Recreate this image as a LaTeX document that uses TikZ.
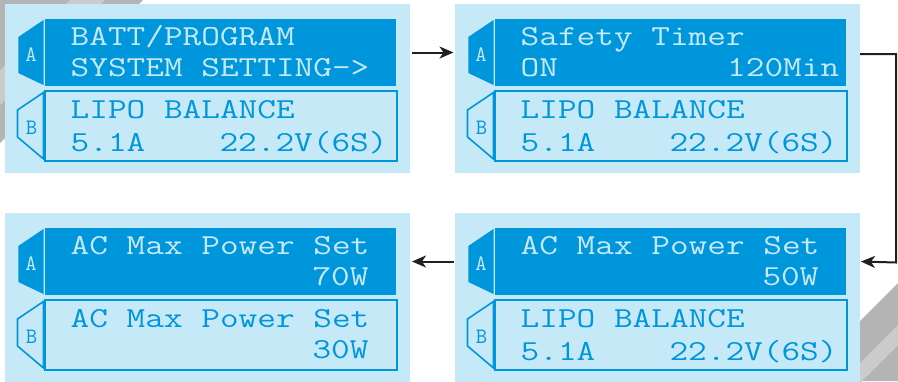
\documentclass[tikz,border=0pt]{standalone}
\usepackage{fontspec}
\newfontfamily\lcdmono{Latin Modern Mono}[FakeStretch=1.25]
\newfontfamily\lcdtab{Latin Modern Mono}
\usetikzlibrary{arrows.meta}
\definecolor{dblue}{HTML}{0096DB}
\definecolor{lbg}{HTML}{C6E9F8}
\definecolor{arrcol}{HTML}{231F20}
\definecolor{grayA}{HTML}{B4B4B4}
\definecolor{grayB}{HTML}{CBCBCB}
\tikzset{
  panelbg/.style={fill=lbg, draw=none, minimum width=405pt, minimum height=169pt, inner sep=0pt, outer sep=0pt},
  abox/.style={fill=dblue, draw=none, minimum width=351pt, minimum height=67pt, inner sep=0pt, outer sep=0pt},
  bbox/.style={draw=dblue, line width=1.6pt, minimum width=352pt, minimum height=70pt, inner sep=0pt, outer sep=0pt},
  atab/.style={fill=dblue},
  btab/.style={draw=dblue, line width=1.6pt, line join=miter},
  tabA/.style={text=lbg, font=\lcdtab\fontsize{22}{22}\selectfont, inner sep=0pt},
  tabB/.style={text=dblue, font=\lcdtab\fontsize{22}{22}\selectfont, inner sep=0pt},
  ltxt/.style={text=lbg, font=\lcdmono\fontsize{29}{29}\selectfont, inner sep=0pt, anchor=base west},
  btxt/.style={text=dblue, font=\lcdmono\fontsize{29}{29}\selectfont, inner sep=0pt, anchor=base west},
  arr/.style={draw=arrcol, line width=2pt, -{Stealth[length=14pt, width=12pt, inset=4pt]}},
}
\newcommand\lcdframe[3]{%
  \begin{scope}[shift={(#2,#3)}]
    \node[panelbg] (p#1) at (207.5,88.5) {};
    \fill[atab] (43.5,20) -- (18.3,37) -- (18.3,73) -- (43.5,85) -- cycle;
    \node[abox] (a#1) at (220.5,52.5) {};
    \draw[btab] (43.5,92.5) -- (17.5,110) -- (17.5,137) -- (43.5,159) -- cycle;
    \node[bbox] (b#1) at (221,126) {};
    \node[tabA] (ta#1) at (31,55) {A};
    \node[tabB] (tb#1) at (31.5,128) {B};
  \end{scope}}
\begin{document}
\begin{tikzpicture}[x=1pt, y=-1pt]
\useasboundingbox (0,0) rectangle (898,381);
% background grey decorations
\fill[grayA] (0,0) -- (143,0) -- (0,143) -- cycle;
\fill[grayB] (70,0) -- (105,0) -- (0,105) -- (0,70) -- cycle;
\fill[grayA] (898,283) -- (860,321) -- (860,381) -- (898,381) -- cycle;
\fill[grayB] (898,325) -- (898,345) -- (860,383) -- (860,363) -- cycle;
% panels
\lcdframe{1}{0}{0}
\lcdframe{2}{450}{0}
\lcdframe{3}{0}{209}
\lcdframe{4}{450}{209}
% panel 1 texts
\node[ltxt] (t1a) at (70.5,45) {BATT/PROGRAM};
\node[ltxt] (t1b) at (70.5,76) {SYSTEM SETTING->};
\node[btxt] (t1c) at (70.5,118) {LIPO BALANCE};
\node[btxt] (t1d) at (70.5,151) {5.1A};
\node[btxt] (t1e) at (219.3,151) {22.2V(6S)};
% panel 2 texts
\node[ltxt] (t2a) at (520.5,45) {Safety Timer};
\node[ltxt] (t2b) at (520.5,76) {ON};
\node[ltxt] (t2c) at (727,76) {120Min};
\node[btxt] (t2d) at (520.5,118) {LIPO BALANCE};
\node[btxt] (t2e) at (520.5,151) {5.1A};
\node[btxt] (t2f) at (669.3,151) {22.2V(6S)};
% panel 3 texts
\node[ltxt] (t3a) at (70.5,254) {AC Max Power Set};
\node[ltxt] (t3b) at (312.3,285) {70W};
\node[btxt] (t3c) at (70.5,327) {AC Max Power Set};
\node[btxt] (t3d) at (312.3,358) {30W};
% panel 4 texts
\node[ltxt] (t4a) at (520.5,254) {AC Max Power Set};
\node[ltxt] (t4b) at (762.3,285) {50W};
\node[btxt] (t4c) at (520.5,327) {LIPO BALANCE};
\node[btxt] (t4d) at (520.5,360) {5.1A};
\node[btxt] (t4e) at (669.3,360) {22.2V(6S)};
% connectors
\draw[arr, shorten <=2pt, shorten >=1.5pt] (p1.east |- a1) -- (p2.west |- a1);
\draw[arr, shorten >=1pt] ([yshift=-1.5pt]p2.east |- a2) -| ++(36,208.5) -- (p4.east |- a4);
\draw[arr, shorten <=1.5pt, shorten >=2pt] (p4.west |- a4) -- (p3.east |- a3);
\end{tikzpicture}
\end{document}
